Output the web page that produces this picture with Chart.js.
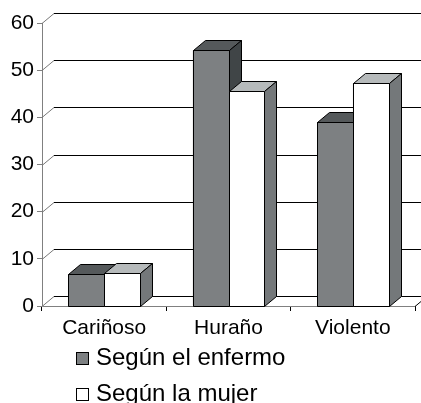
<!DOCTYPE html>
<html><head><meta charset="utf-8">
<script src="https://cdn.jsdelivr.net/npm/chart.js@4.4.0/dist/chart.umd.min.js"></script>
<style>html,body{margin:0;padding:0;background:#fff;}#wrap{width:421px;height:403px;position:relative;}</style>
</head><body><div id="wrap"><canvas id="c"></canvas></div>
<script>
const categories = ['Cariñoso', 'Huraño', 'Violento'];
const seriesNames = ['Según el enfermo', 'Según la mujer'];
const enfermo = [6.8, 54.2, 39.0];
const mujer = [7.0, 45.5, 47.2];
const yMin = 0, yMax = 60, yStep = 10;

const FONT = "'Liberation Sans', Arial, sans-serif";
const DX = 12, DY = -10;
const faceColors = [
  {front: '#7d8082', top: '#55595b', side: '#404547'},
  {front: '#ffffff', top: '#b6babb', side: '#74787a'}
];

function poly(ctx, pts, fill) {
  ctx.beginPath();
  ctx.moveTo(pts[0][0], pts[0][1]);
  for (let i = 1; i < pts.length; i++) ctx.lineTo(pts[i][0], pts[i][1]);
  ctx.closePath();
  ctx.fillStyle = fill; ctx.fill();
  ctx.strokeStyle = '#000'; ctx.lineWidth = 1; ctx.stroke();
}
function line(ctx, x1, y1, x2, y2, color) {
  ctx.beginPath(); ctx.moveTo(x1, y1); ctx.lineTo(x2, y2);
  ctx.strokeStyle = color; ctx.lineWidth = 1; ctx.stroke();
}

const wallPlugin = {
  id: 'wall3d',
  beforeDatasetsDraw(chart) {
    const ctx = chart.ctx, a = chart.chartArea, ys = chart.scales.y;
    ctx.save();
    const L = a.left, R = a.right, B = Math.round(a.bottom) + 0.5;
    ctx.fillStyle = '#fff';
    ctx.beginPath(); ctx.moveTo(L, B); ctx.lineTo(R, B); ctx.lineTo(R + DX, B + DY); ctx.lineTo(L + DX, B + DY); ctx.closePath(); ctx.fill();
    for (let v = yMin; v <= yMax; v += yStep) {
      const y = Math.round(ys.getPixelForValue(v)) + 0.5;
      line(ctx, L + DX, y + DY, chart.width + 20, y + DY, '#000');
      line(ctx, L, y, L + DX, y + DY, '#777');
    }
    line(ctx, R, B, R + DX, B + DY, '#000');
    ctx.restore();
  },
  afterDatasetsDraw(chart) {
    const ctx = chart.ctx;
    ctx.save();
    const metas = chart.data.datasets.map((d, i) => chart.getDatasetMeta(i));
    const n = chart.data.labels.length;
    for (let k = 0; k < n; k++) {
      metas.forEach((meta, i) => {
        const el = meta.data[k];
        if (!el) return;
        const c = faceColors[i];
        const p = el.getProps(['x', 'y', 'base', 'width'], true);
        const l = Math.round(p.x - p.width / 2) + 0.5, r = Math.round(p.x + p.width / 2) + 0.5;
        const t = Math.round(p.y) + 0.5, b = Math.round(p.base) + 0.5;
        poly(ctx, [[l, t], [r, t], [r, b], [l, b]], c.front);
        poly(ctx, [[l, t], [r, t], [r + DX, t + DY], [l + DX, t + DY]], c.top);
        poly(ctx, [[r, t], [r + DX, t + DY], [r + DX, b + DY], [r, b]], c.side);
      });
    }
    ctx.restore();
  },
  afterDraw(chart) {
    const ctx = chart.ctx;
    ctx.save();
    const rows = [352, 388];
    chart.data.datasets.forEach((ds, i) => {
      const y = rows[i];
      ctx.fillStyle = faceColors[i].front;
      ctx.fillRect(76, y, 13, 13);
      ctx.strokeStyle = '#000'; ctx.lineWidth = 1;
      ctx.strokeRect(76.5, y + 0.5, 12, 12);
      ctx.fillStyle = '#000';
      ctx.font = '24px ' + FONT;
      ctx.textBaseline = 'alphabetic';
      ctx.textAlign = 'left';
      ctx.fillText(ds.label, 96, y + 13);
    });
    ctx.restore();
  }
};

new Chart(document.getElementById('c'), {
  type: 'bar',
  data: {
    labels: categories,
    datasets: [
      {label: seriesNames[0], data: enfermo, backgroundColor: faceColors[0].front, borderColor: '#000', borderWidth: 1},
      {label: seriesNames[1], data: mujer, backgroundColor: faceColors[1].front, borderColor: '#000', borderWidth: 1}
    ]
  },
  options: {
    responsive: true, maintainAspectRatio: false, animation: false, devicePixelRatio: 1,
    layout: {padding: {top: 23, right: 6, left: 0, bottom: 0}},
    datasets: {bar: {barPercentage: 1, categoryPercentage: 0.575}},
    plugins: {legend: {display: false}, tooltip: {enabled: false}},
    scales: {
      x: {
        grid: {drawOnChartArea: false, drawTicks: true, tickLength: 5, color: '#000', offset: true},
        border: {display: true, color: '#000'},
        ticks: {font: {family: FONT, size: 21}, color: '#000', padding: 5},
        afterFit: s => { s.height = 97; }
      },
      y: {
        min: yMin, max: yMax,
        grid: {drawOnChartArea: false, drawTicks: true, tickLength: 5, color: '#808080'},
        border: {display: true, color: '#808080'},
        ticks: {stepSize: yStep, font: {family: FONT, size: 21}, color: '#000', padding: 3},
        afterFit: s => { s.width = 42; }
      }
    }
  },
  plugins: [wallPlugin]
});
</script>
</body></html>
